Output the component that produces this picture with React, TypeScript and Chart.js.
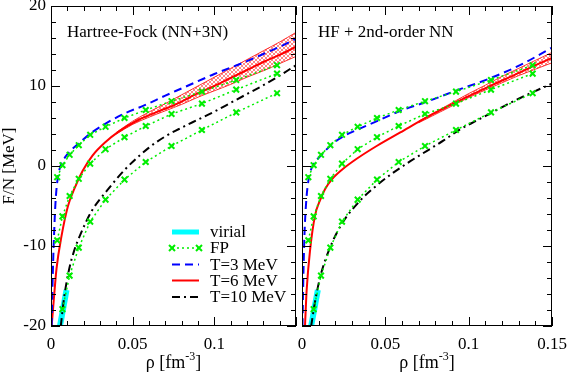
import React, { useEffect, useRef } from 'react';
import { Chart, registerables } from 'chart.js';
Chart.register(...registerables);

const FONT = '"Liberation Serif", "Times New Roman", serif';

// ---------- FP (identical in both panels) ----------
const fpRho = [0.0038, 0.007, 0.0114, 0.017, 0.024, 0.0334, 0.045, 0.058, 0.0738, 0.0924, 0.1134, 0.1384];
const fpT3 = [-1.4, 0.1, 1.4, 2.6, 3.9, 4.9, 6.0, 7.0, 8.1, 9.3, 10.75, 12.6];
const fpT6 = [-9.3, -6.3, -3.75, -1.6, 0.3, 2.1, 3.6, 5.0, 6.5, 7.8, 9.55, 11.55];
const fpRho10 = [0.007, 0.0114, 0.017, 0.024, 0.0334, 0.045, 0.058, 0.0738, 0.0924, 0.1134, 0.1384];
const fpT10 = [-17.9, -13.7, -10.2, -6.95, -4.2, -1.7, 0.5, 2.5, 4.5, 6.7, 9.1];

// ---------- virial ----------
const virialRho = [0.0055, 0.0095];
const virialF = [-20, -15.5];

// ---------- Left panel: Hartree-Fock (NN+3N) ----------
const hfRho3 = [0.0004, 0.0008, 0.0013, 0.0018, 0.0025, 0.0033, 0.0044, 0.0055, 0.0068, 0.009, 0.0114, 0.0174, 0.0244, 0.0334, 0.0454, 0.0574, 0.07, 0.08, 0.09, 0.1, 0.11, 0.12, 0.13, 0.14, 0.15];
const hfF3 = [-20, -16, -12, -9, -5.5, -3.0, -1.2, -0.2, 0.5, 1.2, 1.8, 2.9, 4.1, 5.3, 6.6, 7.6, 8.8, 9.7, 10.6, 11.5, 12.3, 13.1, 14.0, 14.9, 15.9];
const hfRho6 = [0.0004, 0.0014, 0.0034, 0.0064, 0.0104, 0.0144, 0.0194, 0.0254, 0.0334, 0.0414, 0.0534, 0.0654, 0.0774, 0.09, 0.1, 0.11, 0.12, 0.13, 0.14, 0.15];
const hfF6 = [-20, -17.5, -12.8, -8.8, -5.0, -2.8, -0.6, 1.3, 3.0, 4.3, 5.75, 6.8, 7.8, 9.1, 10.0, 11.0, 12.0, 13.0, 13.9, 14.9];
const hfBandRho = [0.04, 0.05, 0.06, 0.07, 0.08, 0.09, 0.1, 0.11, 0.12, 0.13, 0.14, 0.15];
const hfBandHi = [4.2, 5.6, 6.75, 7.8, 8.9, 10.0, 11.1, 12.2, 13.3, 14.4, 15.5, 16.7];
const hfBandLo = [4.0, 5.2, 6.1, 6.9, 7.7, 8.6, 9.4, 10.2, 11.1, 11.9, 12.8, 13.7];
const hfRho10 = [0.006, 0.008, 0.011, 0.014, 0.0175, 0.025, 0.035, 0.045, 0.06, 0.07, 0.08, 0.09, 0.1, 0.11, 0.12, 0.13, 0.14, 0.15];
const hfF10 = [-20, -16.5, -13, -10.7, -8.8, -5.6, -2.9, -0.5, 2.3, 3.7, 4.8, 5.8, 6.8, 7.9, 9.0, 10.1, 11.3, 12.6];

// ---------- Right panel: HF + 2nd-order NN ----------
const soRho3 = [0.0003, 0.0008, 0.0015, 0.0025, 0.004, 0.0055, 0.0068, 0.0118, 0.0178, 0.0248, 0.0338, 0.045, 0.059, 0.0758, 0.0908, 0.1108, 0.1308, 0.15];
const soF3 = [-20, -14, -8.5, -4.5, -1.6, -0.4, 0.2, 1.4, 2.7, 3.7, 4.6, 5.6, 6.9, 8.1, 9.3, 10.8, 12.6, 14.8];
const soRho6 = [0.0018, 0.0028, 0.0048, 0.0078, 0.0108, 0.0138, 0.0178, 0.0238, 0.0328, 0.0448, 0.059, 0.0758, 0.0908, 0.1108, 0.1308, 0.14, 0.15];
const soF6 = [-20, -15.5, -10.6, -6.2, -4.3, -2.9, -1.7, -0.5, 0.9, 2.5, 4.2, 6.2, 7.8, 9.8, 11.7, 12.6, 13.5];
const soBandRho = [0.07, 0.08, 0.09, 0.1, 0.11, 0.12, 0.13, 0.14, 0.15];
const soBandHi = [5.6, 6.75, 7.9, 9.05, 10.1, 11.2, 12.2, 13.2, 14.2];
const soBandLo = [5.4, 6.45, 7.5, 8.55, 9.5, 10.4, 11.3, 12.1, 12.9];
const soRho10 = [0.0055, 0.0078, 0.011, 0.0168, 0.024, 0.035, 0.045, 0.055, 0.065, 0.075, 0.085, 0.095, 0.105, 0.115, 0.125, 0.135, 0.15];
const soF10 = [-20, -17, -13.8, -10.2, -7.2, -4.3, -2.4, -0.8, 0.6, 1.9, 3.2, 4.6, 5.7, 6.8, 7.9, 8.9, 10.3];

const xTicks = [0, 0.05, 0.1, 0.15];
const yTicks = [-20, -10, 0, 10, 20];
const legendLabels = ['virial', 'FP', 'T=3 MeV', 'T=6 MeV', 'T=10 MeV'];

const BLUE = '#0000ff';
const RED = '#ff0000';
const GREEN = '#00ee00';
const CYAN = '#00ffff';

const pts = (xs: number[], ys: number[]) => xs.map((x, i) => ({ x, y: ys[i] }));

function makeHatch(): any {
  const c = document.createElement('canvas');
  c.width = 4; c.height = 4;
  const g = c.getContext('2d');
  if (!g) return 'rgba(255,0,0,0.3)';
  g.strokeStyle = 'rgba(255,0,0,0.6)';
  g.lineWidth = 0.8;
  g.beginPath(); g.moveTo(0, 4); g.lineTo(4, 0); g.stroke();
  g.beginPath(); g.moveTo(0, 0); g.lineTo(4, 4); g.stroke();
  return g.createPattern(c, 'repeat') || 'rgba(255,0,0,0.3)';
}

function drawCross(ctx: CanvasRenderingContext2D, x: number, y: number, r: number) {
  ctx.beginPath();
  ctx.moveTo(x - r, y - r); ctx.lineTo(x + r, y + r);
  ctx.moveTo(x - r, y + r); ctx.lineTo(x + r, y - r);
  ctx.stroke();
}

const decoPlugin = {
  id: 'deco',
  afterDraw(chart: any, _args: any, opts: any) {
    const ctx: CanvasRenderingContext2D = chart.ctx;
    const ca = chart.chartArea;
    const xs = chart.scales.x;
    const ys = chart.scales.y;
    ctx.save();
    ctx.strokeStyle = '#000';
    ctx.lineWidth = 1;
    ctx.setLineDash([]);
    // frame
    ctx.strokeRect(ca.left + 0.5, ca.top + 0.5, ca.right - ca.left - 1, ca.bottom - ca.top - 1);
    // x ticks
    for (let k = 0; k <= 15; k++) {
      const v = k / 100;
      const px = Math.round(xs.getPixelForValue(v)) + 0.5;
      const len = k % 5 === 0 ? 9 : 5;
      ctx.beginPath();
      ctx.moveTo(px, ca.bottom); ctx.lineTo(px, ca.bottom - len);
      ctx.moveTo(px, ca.top); ctx.lineTo(px, ca.top + len);
      ctx.stroke();
    }
    // y ticks
    for (let v = -20; v <= 20; v += 2) {
      const py = Math.round(ys.getPixelForValue(v)) + 0.5;
      const len = v % 10 === 0 ? 9 : 5;
      ctx.beginPath();
      ctx.moveTo(ca.left, py); ctx.lineTo(ca.left + len, py);
      ctx.moveTo(ca.right, py); ctx.lineTo(ca.right - len, py);
      ctx.stroke();
    }
    // panel title
    ctx.fillStyle = '#000';
    ctx.font = `17px ${FONT}`;
    ctx.textAlign = 'left';
    ctx.textBaseline = 'alphabetic';
    ctx.fillText(opts.title, ca.left + 16, ca.top + 31);

    // x axis title with superscript
    const cx = (ca.left + ca.right) / 2;
    const base = 368;
    ctx.font = `18px ${FONT}`;
    const p1 = 'ρ [fm';
    const p3 = ']';
    const w1 = ctx.measureText(p1).width;
    const w3 = ctx.measureText(p3).width;
    ctx.font = `12px ${FONT}`;
    const p2 = '-3';
    const w2 = ctx.measureText(p2).width;
    let sx = cx - (w1 + w2 + w3) / 2;
    ctx.font = `18px ${FONT}`;
    ctx.fillText(p1, sx, base);
    sx += w1;
    ctx.font = `12px ${FONT}`;
    ctx.fillText(p2, sx, base - 8);
    sx += w2;
    ctx.font = `18px ${FONT}`;
    ctx.fillText(p3, sx, base);

    if (opts.left) {
      // y axis title
      ctx.save();
      ctx.translate(10, (ca.top + ca.bottom) / 2);
      ctx.rotate(-Math.PI / 2);
      ctx.textAlign = 'center';
      ctx.textBaseline = 'middle';
      ctx.font = `17px ${FONT}`;
      ctx.fillText('F/N [MeV]', 0, 0);
      ctx.restore();

      // legend
      const lx0 = ca.left + 121, lx1 = ca.left + 148, tx = ca.left + 159;
      const rows = [226, 242, 258.5, 274.5, 291].map((d) => ca.top + d);
      ctx.textAlign = 'left';
      ctx.textBaseline = 'middle';
      ctx.font = `17px ${FONT}`;
      // virial
      ctx.strokeStyle = CYAN; ctx.lineWidth = 5; ctx.setLineDash([]);
      ctx.beginPath(); ctx.moveTo(lx0, rows[0]); ctx.lineTo(lx1, rows[0]); ctx.stroke();
      // FP
      ctx.strokeStyle = GREEN; ctx.lineWidth = 1.5; ctx.setLineDash([2, 3]);
      ctx.beginPath(); ctx.moveTo(lx0, rows[1]); ctx.lineTo(lx1, rows[1]); ctx.stroke();
      ctx.setLineDash([]); ctx.lineWidth = 2;
      drawCross(ctx, lx0, rows[1], 3);
      drawCross(ctx, lx1, rows[1], 3);
      // T=3
      ctx.strokeStyle = BLUE; ctx.lineWidth = 2; ctx.setLineDash([8, 5]);
      ctx.beginPath(); ctx.moveTo(lx0, rows[2]); ctx.lineTo(lx1, rows[2]); ctx.stroke();
      // T=6
      ctx.strokeStyle = RED; ctx.lineWidth = 2; ctx.setLineDash([]);
      ctx.beginPath(); ctx.moveTo(lx0, rows[3]); ctx.lineTo(lx1, rows[3]); ctx.stroke();
      // T=10
      ctx.strokeStyle = '#000'; ctx.lineWidth = 2; ctx.setLineDash([8, 4, 2, 4]);
      ctx.beginPath(); ctx.moveTo(lx0, rows[4]); ctx.lineTo(lx1, rows[4]); ctx.stroke();
      ctx.setLineDash([]);
      ctx.fillStyle = '#000';
      legendLabels.forEach((t, i) => ctx.fillText(t, tx, rows[i] + 1));
    }
    ctx.restore();
  },
};

function buildDatasets(d: any, hatch: any) {
  const fpStyle = {
    borderColor: GREEN,
    backgroundColor: GREEN,
    borderWidth: 1.5,
    borderDash: [2, 3],
    pointStyle: 'crossRot',
    pointRadius: 4,
    pointBorderWidth: 2,
    pointBorderColor: GREEN,
    tension: 0,
    fill: false,
  };
  return [
    { label: 'FP3', data: pts(fpRho, fpT3), ...fpStyle },
    { label: 'FP6', data: pts(fpRho, fpT6), ...fpStyle },
    { label: 'FP10', data: pts(fpRho10, fpT10), ...fpStyle },
    { label: 'T3', data: pts(d.r3, d.f3), borderColor: BLUE, borderWidth: 2, borderDash: [8, 5], pointRadius: 0, cubicInterpolationMode: 'monotone', fill: false },
    { label: 'T6', data: pts(d.r6, d.f6), borderColor: RED, borderWidth: 2, pointRadius: 0, cubicInterpolationMode: 'monotone', fill: false },
    { label: 'bandLo', data: pts(d.br, d.bl), borderColor: RED, borderWidth: 0.8, pointRadius: 0, cubicInterpolationMode: 'monotone', fill: false },
    { label: 'bandHi', data: pts(d.br, d.bh), borderColor: RED, borderWidth: 0.8, pointRadius: 0, cubicInterpolationMode: 'monotone', fill: '-1', backgroundColor: hatch },
    { label: 'T10', data: pts(d.r10, d.f10), borderColor: '#000', borderWidth: 2, borderDash: [8, 4, 2, 4], pointRadius: 0, cubicInterpolationMode: 'monotone', fill: false },
    { label: 'virial', data: pts(virialRho, virialF), borderColor: CYAN, borderWidth: 6, pointRadius: 0, fill: false },
  ];
}

function makeConfig(left: boolean, d: any, hatch: any, title: string): any {
  const tickFont = { family: FONT, size: 17 };
  return {
    type: 'line',
    data: { datasets: buildDatasets(d, hatch) },
    plugins: [decoPlugin],
    options: {
      responsive: false,
      maintainAspectRatio: false,
      animation: false,
      devicePixelRatio: 1,
      layout: { padding: left ? { top: 6, right: 1, left: 0, bottom: 0 } : { top: 6, right: 16, left: 12, bottom: 0 } },
      plugins: {
        legend: { display: false },
        tooltip: { enabled: false },
        deco: { left, title },
      },
      scales: {
        x: {
          type: 'linear',
          min: 0,
          max: 0.15,
          afterBuildTicks: (s: any) => { s.ticks = xTicks.map((v) => ({ value: v })); },
          grid: { display: false, drawTicks: false },
          border: { display: false },
          ticks: {
            font: tickFont,
            color: '#000',
            padding: 8,
            maxRotation: 0,
            autoSkip: false,
            callback: (v: number) => {
              const r = Math.round(v * 100) / 100;
              if (left && r === 0.15) return '';
              return String(r);
            },
          },
          afterFit: (s: any) => { s.height = 49; s.paddingLeft = 0; s.paddingRight = 0; },
        },
        y: {
          type: 'linear',
          min: -20,
          max: 20,
          display: left,
          afterBuildTicks: (s: any) => { s.ticks = yTicks.map((v) => ({ value: v })); },
          grid: { display: false, drawTicks: false },
          border: { display: false },
          ticks: { font: tickFont, color: '#000', padding: 5 },
          afterFit: (s: any) => { s.width = left ? 51 : 0; s.paddingTop = 0; s.paddingBottom = 0; },
        },
      },
    },
  };
}

export default function App() {
  const leftRef = useRef<HTMLCanvasElement>(null);
  const rightRef = useRef<HTMLCanvasElement>(null);
  useEffect(() => {
    const hatch = makeHatch();
    const lc = new Chart(leftRef.current as HTMLCanvasElement, makeConfig(true, {
      r3: hfRho3, f3: hfF3, r6: hfRho6, f6: hfF6, br: hfBandRho, bl: hfBandLo, bh: hfBandHi, r10: hfRho10, f10: hfF10,
    }, hatch, 'Hartree-Fock (NN+3N)'));
    const rc = new Chart(rightRef.current as HTMLCanvasElement, makeConfig(false, {
      r3: soRho3, f3: soF3, r6: soRho6, f6: soF6, br: soBandRho, bl: soBandLo, bh: soBandHi, r10: soRho10, f10: soF10,
    }, hatch, 'HF + 2nd-order NN'));
    return () => { lc.destroy(); rc.destroy(); };
  }, []);
  return (
    <div style={{ position: 'absolute', left: 0, top: 0, width: 568, height: 375, background: '#fff' }}>
      <canvas ref={leftRef} width={302} height={375} style={{ position: 'absolute', left: 0, top: 0, width: 302, height: 375 }} />
      <canvas ref={rightRef} width={278} height={375} style={{ position: 'absolute', left: 290, top: 0, width: 278, height: 375 }} />
    </div>
  );
}
